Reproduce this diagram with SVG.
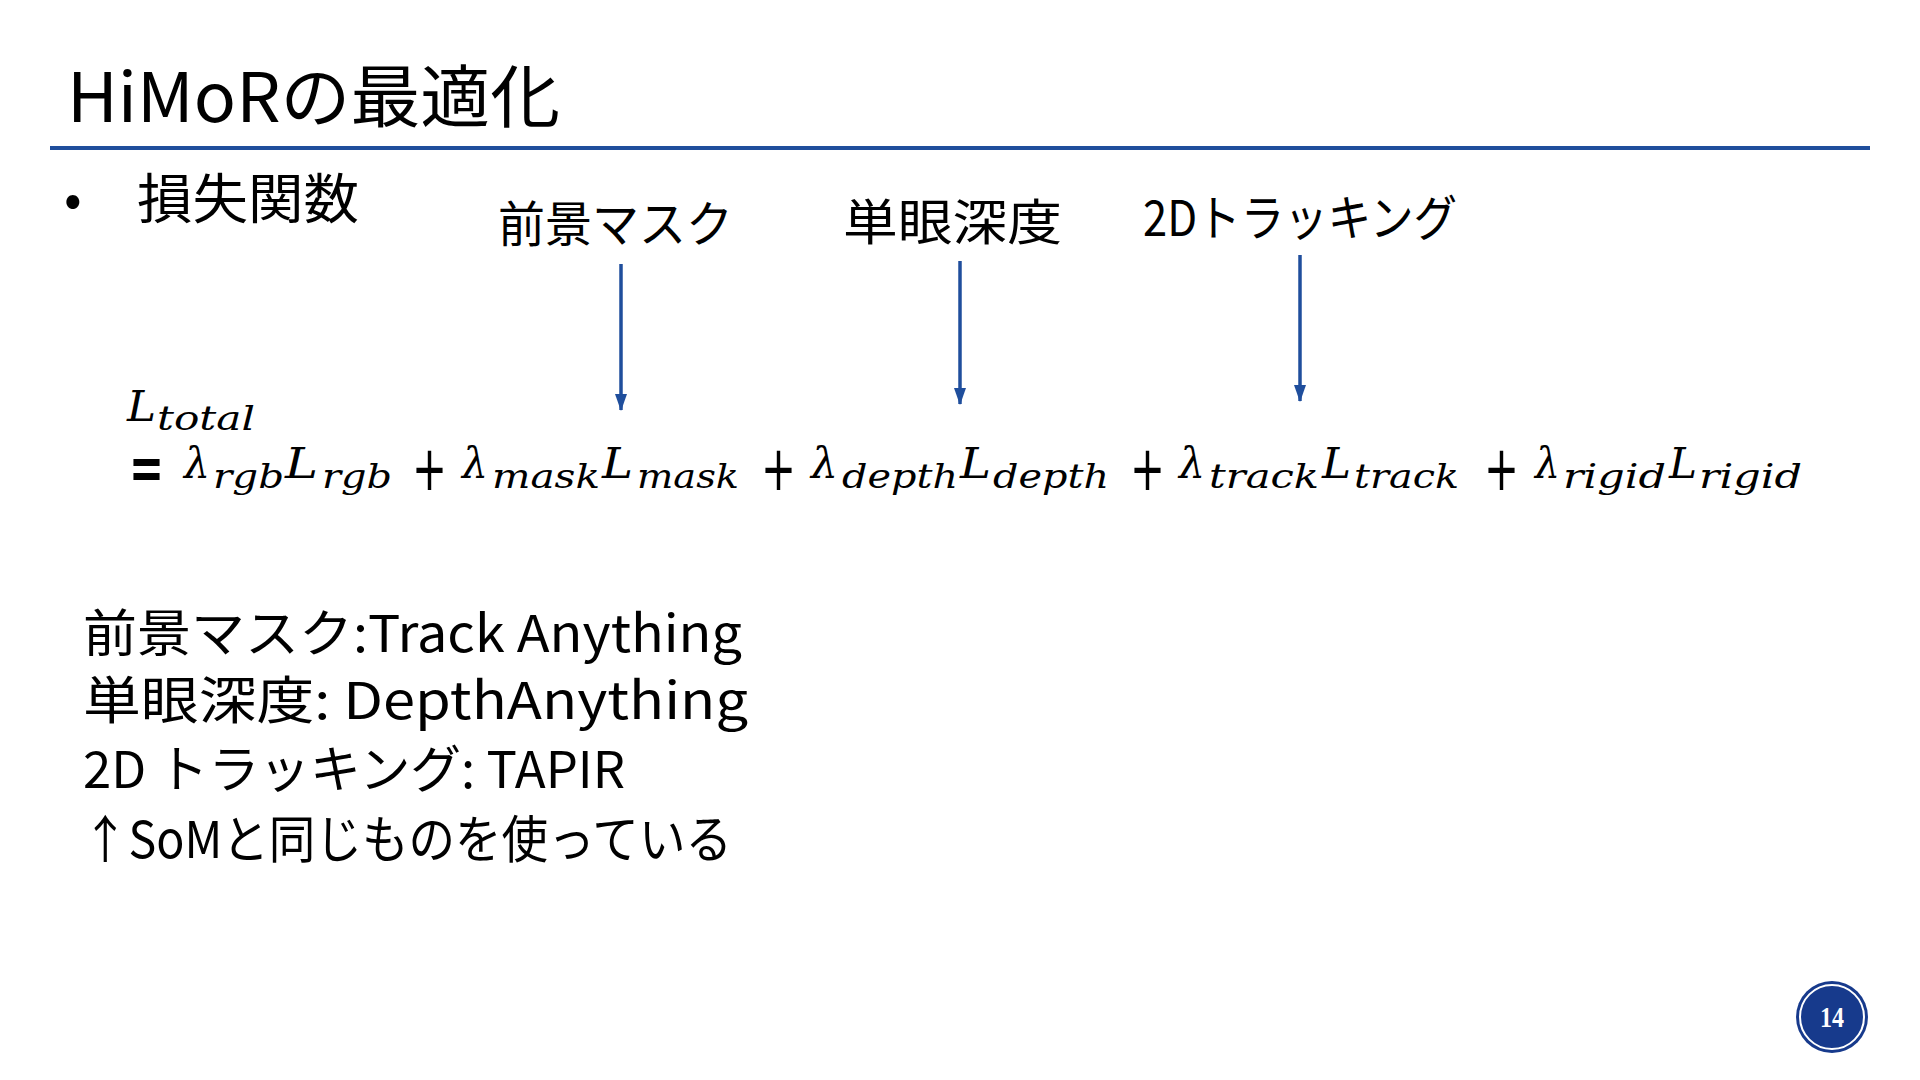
<svg xmlns="http://www.w3.org/2000/svg" width="1920" height="1080" viewBox="0 0 1920 1080">
  <style>
    .jp { font-family: "Noto Sans CJK JP", "Noto Sans", sans-serif; fill: #000; }
    .m { font-family: "DejaVu Serif", "Liberation Serif", serif; font-style: italic; font-size: 42px; fill: #000; }
    .s { font-family: "DejaVu Serif", "Liberation Serif", serif; font-style: italic; font-size: 34px; fill: #000; }
    .op { font-family: "DejaVu Sans", "Liberation Sans", sans-serif; font-size: 62px; fill: #000; }
    .eq { font-family: "DejaVu Sans", "Liberation Sans", sans-serif; font-size: 60px; font-weight: bold; fill: #000; }
    .arrow { stroke: #1F4E9C; stroke-width: 3.5; fill: none; }
  </style>
  <defs>
    <marker id="ah" markerUnits="userSpaceOnUse" markerWidth="17" markerHeight="12" viewBox="0 0 17 12" refX="16" refY="6" orient="auto">
      <path d="M0,0 L17,6 L0,12 z" fill="#1F4E9C"/>
    </marker>
  </defs>
  <rect x="0" y="0" width="1920" height="1080" fill="#FFFFFF"/>

  <g id="title">
    <text class="jp" x="67" y="122" font-size="68" textLength="493" lengthAdjust="spacingAndGlyphs">HiMoRの最適化</text>
    <line x1="50" y1="148" x2="1870" y2="148" stroke="#1F4E9C" stroke-width="4"/>
  </g>

  <g id="bullet">
    <text class="jp" x="64" y="217" font-size="52">•</text>
    <text class="jp" x="137" y="219" font-size="54" textLength="222" lengthAdjust="spacingAndGlyphs">損失関数</text>
  </g>

  <g id="label-mask">
    <text class="jp" x="498" y="242" font-size="49" textLength="235" lengthAdjust="spacingAndGlyphs">前景マスク</text>
  </g>
  <g id="label-depth">
    <text class="jp" x="843" y="240" font-size="49" textLength="219" lengthAdjust="spacingAndGlyphs">単眼深度</text>
  </g>
  <g id="label-track">
    <text class="jp" x="1143" y="236" font-size="49" textLength="314" lengthAdjust="spacingAndGlyphs">2Dトラッキング</text>
  </g>

  <g id="connectors">
    <line class="arrow" x1="621" y1="264" x2="621" y2="410" marker-end="url(#ah)"/>
    <line class="arrow" x1="960" y1="261" x2="960" y2="404" marker-end="url(#ah)"/>
    <line class="arrow" x1="1300" y1="255" x2="1300" y2="401" marker-end="url(#ah)"/>
  </g>

  <g id="formula">
    <text class="m" x="127" y="421" textLength="29" lengthAdjust="spacingAndGlyphs">L</text>
    <text class="s" x="157" y="430" textLength="98" lengthAdjust="spacingAndGlyphs">total</text>

    <text class="eq" x="129" y="489" textLength="35" lengthAdjust="spacingAndGlyphs">=</text>
    <text class="m" x="184" y="478" textLength="26" lengthAdjust="spacingAndGlyphs">λ</text>
    <text class="s" x="213" y="488" textLength="71" lengthAdjust="spacingAndGlyphs">rgb</text>
    <text class="m" x="285" y="478" textLength="33" lengthAdjust="spacingAndGlyphs">L</text>
    <text class="s" x="322" y="488" textLength="70" lengthAdjust="spacingAndGlyphs">rgb</text>
    <text class="op" x="412" y="490" textLength="35" lengthAdjust="spacingAndGlyphs">+</text>
    <text class="m" x="462" y="478" textLength="26" lengthAdjust="spacingAndGlyphs">λ</text>
    <text class="s" x="492" y="488" textLength="108" lengthAdjust="spacingAndGlyphs">mask</text>
    <text class="m" x="602" y="478" textLength="31" lengthAdjust="spacingAndGlyphs">L</text>
    <text class="s" x="637" y="488" textLength="102" lengthAdjust="spacingAndGlyphs">mask</text>
    <text class="op" x="761" y="490" textLength="35" lengthAdjust="spacingAndGlyphs">+</text>
    <text class="m" x="811" y="478" textLength="27" lengthAdjust="spacingAndGlyphs">λ</text>
    <text class="s" x="842" y="488" textLength="116" lengthAdjust="spacingAndGlyphs">depth</text>
    <text class="m" x="960" y="478" textLength="31" lengthAdjust="spacingAndGlyphs">L</text>
    <text class="s" x="993" y="488" textLength="116" lengthAdjust="spacingAndGlyphs">depth</text>
    <text class="op" x="1130" y="490" textLength="35" lengthAdjust="spacingAndGlyphs">+</text>
    <text class="m" x="1179" y="478" textLength="26" lengthAdjust="spacingAndGlyphs">λ</text>
    <text class="s" x="1209" y="488" textLength="110" lengthAdjust="spacingAndGlyphs">track</text>
    <text class="m" x="1322" y="478" textLength="29" lengthAdjust="spacingAndGlyphs">L</text>
    <text class="s" x="1354" y="488" textLength="105" lengthAdjust="spacingAndGlyphs">track</text>
    <text class="op" x="1484" y="490" textLength="35" lengthAdjust="spacingAndGlyphs">+</text>
    <text class="m" x="1535" y="478" textLength="25" lengthAdjust="spacingAndGlyphs">λ</text>
    <text class="s" x="1563" y="488" textLength="103" lengthAdjust="spacingAndGlyphs">rigid</text>
    <text class="m" x="1669" y="478" textLength="28" lengthAdjust="spacingAndGlyphs">L</text>
    <text class="s" x="1699" y="488" textLength="103" lengthAdjust="spacingAndGlyphs">rigid</text>
  </g>

  <g id="notes">
    <text class="jp" x="83" y="652" font-size="51" textLength="659" lengthAdjust="spacingAndGlyphs">前景マスク:Track Anything</text>
    <text class="jp" x="83" y="719" font-size="51" textLength="665" lengthAdjust="spacingAndGlyphs">単眼深度: DepthAnything</text>
    <text class="jp" x="83" y="788" font-size="51" textLength="542" lengthAdjust="spacingAndGlyphs">2D トラッキング: TAPIR</text>
    <text class="jp" x="82" y="858" font-size="51" textLength="650" lengthAdjust="spacingAndGlyphs">↑SoMと同じものを使っている</text>
  </g>

  <g id="page-number">
    <circle cx="1832" cy="1017" r="36" fill="#173A8C"/>
    <circle cx="1832" cy="1017" r="32" fill="none" stroke="#FFFFFF" stroke-width="2"/>
    <text x="1832" y="1027" font-family="Liberation Serif, serif" font-weight="bold" font-size="29" fill="#FFFFFF" text-anchor="middle" textLength="24" lengthAdjust="spacingAndGlyphs">14</text>
  </g>
</svg>
